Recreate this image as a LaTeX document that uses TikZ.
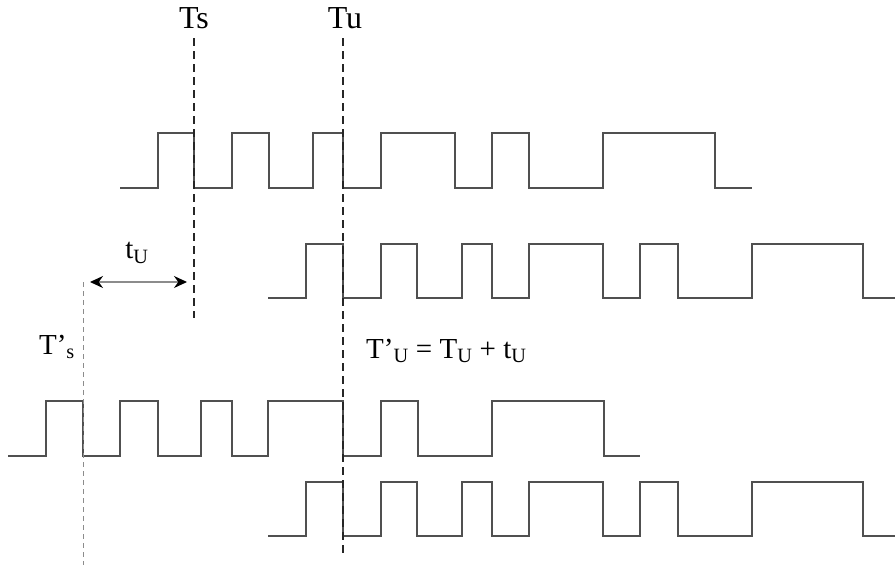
\documentclass[tikz,border=0pt]{standalone}
\usepackage{fontspec}
\setmainfont{Liberation Serif}
\usetikzlibrary{arrows.meta}
\definecolor{wavegray}{RGB}{80,80,80}
\tikzset{
  wave/.style={draw=wavegray, line width=1.25pt, line join=miter},
  markline/.style={draw=black!85, line width=1.1pt, dash pattern=on 8pt off 5pt},
  lightmark/.style={draw=black!45, line width=0.9pt, dash pattern=on 5pt off 4pt},
  dimarrow/.style={draw=black!45, line width=1.2pt, {Stealth[length=13pt,width=12pt,color=black]}-{Stealth[length=13pt,width=12pt,color=black]}},
  biglabel/.style={inner sep=0pt, font=\fontsize{32}{34}\selectfont},
  label/.style={inner sep=0pt, font=\fontsize{29}{32}\selectfont}
}
\begin{document}
\begin{tikzpicture}[x=1pt, y=-1pt]
\useasboundingbox (0,0) rectangle (895,565);
% waveforms
\draw[wave] (120,188) -| (158,133) -| (194,188) -| (232,133) -| (269,188) -| (313,133) -| (343,188) -| (381,133) -| (455,188) -| (492,133) -| (529,188) -| (603,133) -| (715,188) -- (752,188);
\draw[wave] (268,298) -| (306,244) -| (343,298) -| (381,244) -| (417,298) -| (462,244) -| (492,298) -| (529,244) -| (603,298) -| (640,244) -| (678,298) -| (752,244) -| (863,298) -- (895,298);
\draw[wave] (8,456) -| (46,401) -| (83,456) -| (120,401) -| (158,456) -| (201,401) -| (232,456) -| (268,401) -| (343,456) -| (381,401) -| (418,456) -| (492,401) -| (604,456) -- (640,456);
\draw[wave] (268,536) -| (306,482) -| (343,536) -| (381,482) -| (417,536) -| (462,482) -| (492,536) -| (529,482) -| (603,536) -| (640,482) -| (678,536) -| (752,482) -| (863,536) -- (895,536);
% labels
\node[biglabel] (ts) at (194,18) {Ts};
\node[biglabel] (tu) at (345,18) {Tu};
\node[label] (dt) at (137,253) {t\textsubscript{U}};
\node[label] (tps) at (57,347) {T’\textsubscript{s}};
\node[label, anchor=base west] (eq) at (366,358) {T’\textsubscript{U} = T\textsubscript{U} + t\textsubscript{U}};
% marker lines
\coordinate (tsTop) at (194,38);
\coordinate (tsBot) at (194,318);
\coordinate (tuTop) at (343,38);
\coordinate (tuBot) at (343,556);
\coordinate (tpsTop) at (83,282);
\coordinate (tpsBot) at (83,565);
\draw[markline] (tsTop) -- (tsBot);
\draw[markline] (tuTop) -- (tuBot);
\draw[lightmark] (tpsTop) -- (tpsBot);
% dimension arrow
\coordinate (arL) at (90,282);
\coordinate (arR) at (187,282);
\draw[dimarrow] (arL) -- (arR);
\end{tikzpicture}
\end{document}
